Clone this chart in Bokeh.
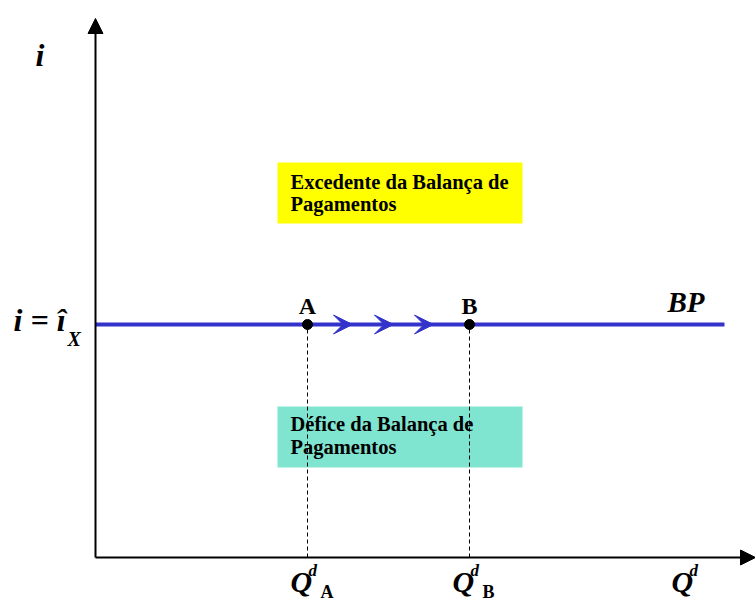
from bokeh.plotting import figure
from bokeh.models import Range1d, Arrow, NormalHead, VeeHead
from bokeh.embed import file_html
from bokeh.resources import INLINE
from bokeh.core.properties import value

# --- diagram values (units, origin at axes corner) ---
i_x = 233                 # level of BP line (i = î_X)
bp_end = 629              # BP line right end
q_points = [212, 374]     # Q^d_A, Q^d_B
q_axis_label = 593        # position of the axis name Q^d
point_names = ["A", "B"]
flow_arrows = [257, 298, 338]   # arrowheads along BP (from A to B)
y_axis_top = 539
x_axis_end = 660
surplus_box = dict(left=182, right=427, bottom=334, top=395)
deficit_box = dict(left=182, right=427, bottom=90, top=151)
surplus_text = ["Excedente da Balança de", "Pagamentos"]
deficit_text = ["Défice da Balança de", "Pagamentos"]

BLUE = "#3333cc"
FONT = "Liberation Serif"
BASE_FIX = 0.4   # baseline correction (fraction of font size)

p = figure(width=755, height=601, output_backend="svg", toolbar_location=None,
           x_range=Range1d(-95, 660), y_range=Range1d(-44, 557),
           min_border=0, outline_line_color=None)
p.axis.visible = False
p.grid.visible = False
p.background_fill_color = "white"


def txt(xs, ys, texts, size, style, align="left"):
    p.text(x=xs, y=[y + BASE_FIX * size for y in ys], text=texts, text_font=value(FONT),
           text_font_style=style, text_font_size=f"{size}px", text_align=align,
           text_baseline="alphabetic", text_color="black")


# boxes
p.quad(left=[surplus_box["left"]], right=[surplus_box["right"]],
       bottom=[surplus_box["bottom"]], top=[surplus_box["top"]],
       fill_color="#ffff00", line_color=None)
p.quad(left=[deficit_box["left"]], right=[deficit_box["right"]],
       bottom=[deficit_box["bottom"]], top=[deficit_box["top"]],
       fill_color="#80e5d0", line_color=None)

tx = surplus_box["left"] + 13
txt([tx, tx], [surplus_box["top"] - 28, surplus_box["top"] - 50], surplus_text, 20.5, "bold")
txt([tx, tx], [deficit_box["top"] - 26, deficit_box["top"] - 49], deficit_text, 20.5, "bold")

# dashed drop lines
for q in q_points:
    p.line(x=[q, q], y=[0, i_x], line_color="black", line_width=1, line_dash="4 3")

# axes with arrowheads
p.add_layout(Arrow(end=NormalHead(size=15, fill_color="black", line_color="black"),
                   x_start=0, y_start=0, x_end=0, y_end=y_axis_top,
                   line_color="black", line_width=2))
p.add_layout(Arrow(end=NormalHead(size=15, fill_color="black", line_color="black"),
                   x_start=0, y_start=0, x_end=x_axis_end, y_end=0,
                   line_color="black", line_width=2))

# BP line
p.line(x=[0, bp_end], y=[i_x, i_x], line_color=BLUE, line_width=4)
for ax in flow_arrows:
    p.add_layout(Arrow(end=VeeHead(size=19, fill_color=BLUE, line_color=BLUE),
                       x_start=ax - 2, y_start=i_x, x_end=ax, y_end=i_x,
                       line_color=BLUE, line_width=1, line_alpha=0))

p.scatter(x=q_points, y=[i_x, i_x], size=10, color="black")

# point labels
txt(q_points, [i_x + 9, i_x + 9], point_names, 24, "bold", align="center")

# BP label
txt([572], [244], ["BP"], 29, "bold italic")

# y axis labels
txt([-60], [490], ["i"], 32, "bold italic")
txt([-82], [225], ["i = î"], 32, "bold italic")
txt([-28], [211], ["X"], 20, "bold italic")

# x axis labels
q_label_x = q_points + [q_axis_label]
subs = point_names + [""]
txt([q - 17 for q in q_label_x], [-36] * 3, ["Q"] * 3, 30, "bold italic")
txt([q + 1 for q in q_label_x], [-20] * 3, ["d"] * 3, 17, "bold italic")
txt([q + 13 for q in q_points], [-42] * 2, point_names, 18, "bold")

open("out.html", "w").write(file_html(p, INLINE))
